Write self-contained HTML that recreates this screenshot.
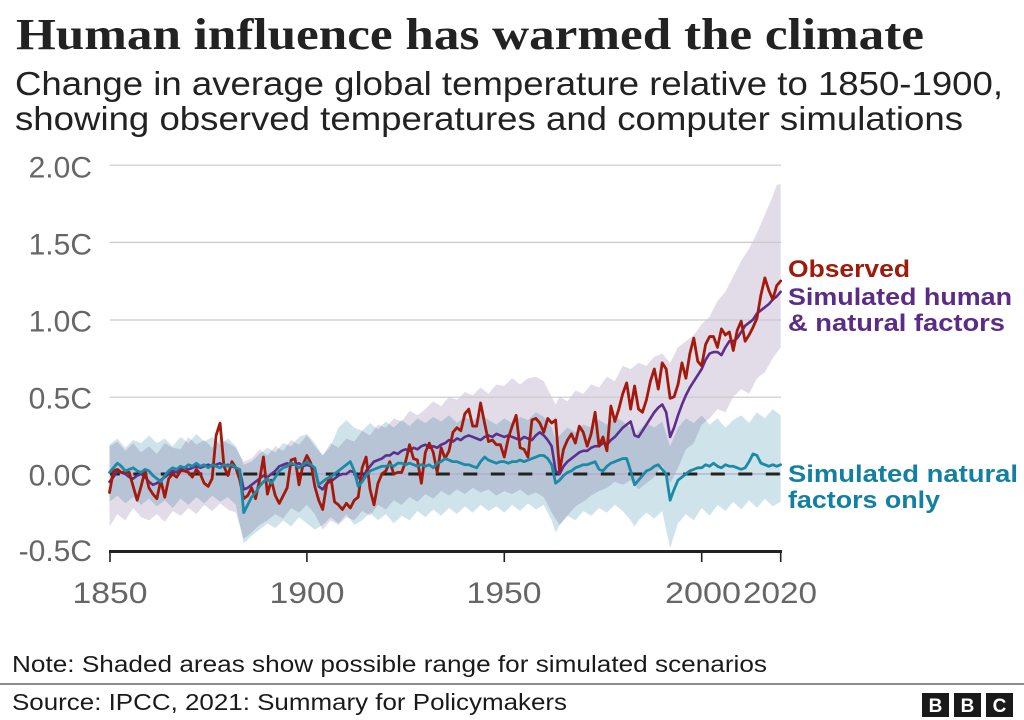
<!DOCTYPE html>
<html><head><meta charset="utf-8"><style>
html,body{margin:0;padding:0;background:#fff;}
svg{display:block;}
</style></head><body>
<svg width="1024" height="720" viewBox="0 0 1024 720" xmlns="http://www.w3.org/2000/svg">
<rect width="1024" height="720" fill="#fff"/>
<text x="16" y="49" font-family="'Liberation Serif', serif" font-weight="bold" font-size="44" fill="#222" textLength="908" lengthAdjust="spacingAndGlyphs">Human influence has warmed the climate</text>
<text x="15" y="95" font-family="'Liberation Sans', sans-serif" font-size="33" fill="#222" textLength="988" lengthAdjust="spacingAndGlyphs">Change in average global temperature relative to 1850-1900,</text>
<text x="15" y="130" font-family="'Liberation Sans', sans-serif" font-size="33" fill="#222" textLength="948" lengthAdjust="spacingAndGlyphs">showing observed temperatures and computer simulations</text>

<g transform="translate(109.5,474) scale(3.948,-154.4)">
<polygon fill="#e2dbe8" points="0,0.18 2,0.21 4,0.15 6,0.2 8,0.14 10,0.18 12,0.13 14,0.2 16,0.17 18,0.16 20,0.24 22,0.19 24,0.22 26,0.17 28,0.23 30,0.2 32,0.17 34,0.08 36,0.1 38,0.16 40,0.12 42,0.18 44,0.15 46,0.22 48,0.19 50,0.25 52,0.18 54,0.12 56,0.2 58,0.17 60,0.23 62,0.21 64,0.28 66,0.25 68,0.32 70,0.3 72,0.36 74,0.34 76,0.41 78,0.38 80,0.42 82,0.47 84,0.44 86,0.5 88,0.48 90,0.53 92,0.51 94,0.56 96,0.52 98,0.58 100,0.57 102,0.62 104,0.58 106,0.62 108,0.63 110,0.6 112,0.5 113,0.45 114,0.5 116,0.47 118,0.54 120,0.52 122,0.58 124,0.56 126,0.63 128,0.6 130,0.7 132,0.68 134,0.72 136,0.7 138,0.76 140,0.78 142,0.72 144,0.82 146,0.86 148,0.9 150,0.97 152,1.02 154,1.12 156,1.18 158,1.28 160,1.38 162,1.46 164,1.56 166,1.68 168,1.8 169,1.87 170,1.88 170,0.82 168,0.75 166,0.66 164,0.62 162,0.52 160,0.55 158,0.5 156,0.4 154,0.42 152,0.36 150,0.32 148,0.2 146,0.16 144,0.04 142,-0.06 140,0.06 138,-0.02 136,-0.06 134,-0.1 132,-0.04 130,-0.07 128,-0.05 126,-0.09 124,-0.11 122,-0.14 120,-0.18 118,-0.21 116,-0.27 114,-0.33 112,-0.25 110,-0.15 108,-0.12 106,-0.14 104,-0.1 102,-0.13 100,-0.11 98,-0.14 96,-0.1 94,-0.12 92,-0.09 90,-0.13 88,-0.1 86,-0.14 84,-0.11 82,-0.16 80,-0.13 78,-0.18 76,-0.15 74,-0.2 72,-0.17 70,-0.23 68,-0.2 66,-0.27 64,-0.24 62,-0.3 60,-0.28 58,-0.33 56,-0.3 54,-0.36 52,-0.26 50,-0.2 48,-0.25 46,-0.22 44,-0.29 42,-0.26 40,-0.3 38,-0.33 36,-0.38 34,-0.42 32,-0.25 30,-0.23 28,-0.19 26,-0.24 24,-0.2 22,-0.26 20,-0.22 18,-0.27 16,-0.24 14,-0.31 12,-0.26 10,-0.3 8,-0.28 6,-0.22 4,-0.3 2,-0.26 0,-0.34"/>
<polygon fill="#cfe4ea" style="mix-blend-mode:multiply" points="0,0.19 2,0.23 4,0.17 6,0.22 8,0.2 10,0.25 12,0.2 14,0.23 16,0.18 18,0.24 20,0.2 22,0.26 24,0.21 26,0.24 28,0.19 30,0.23 32,0.18 34,0.06 36,0.08 38,0.13 40,0.17 42,0.14 44,0.2 46,0.18 48,0.24 50,0.26 52,0.2 54,0.12 56,0.18 58,0.3 60,0.35 62,0.3 64,0.28 66,0.33 68,0.29 70,0.34 72,0.3 74,0.35 76,0.31 78,0.36 80,0.33 82,0.37 84,0.34 86,0.38 88,0.33 90,0.37 92,0.34 94,0.39 96,0.35 98,0.32 100,0.36 102,0.33 104,0.37 106,0.35 108,0.4 110,0.37 112,0.3 113,0.22 114,0.25 116,0.3 118,0.27 120,0.32 122,0.3 124,0.35 126,0.32 128,0.37 130,0.34 132,0.3 133,0.24 134,0.28 136,0.33 138,0.3 140,0.34 142,0.18 144,0.3 146,0.36 148,0.33 150,0.38 152,0.32 154,0.36 156,0.3 158,0.35 160,0.38 162,0.33 164,0.4 166,0.36 168,0.42 170,0.38 170,-0.18 168,-0.21 166,-0.16 164,-0.22 162,-0.17 160,-0.23 158,-0.18 156,-0.24 154,-0.2 152,-0.27 150,-0.22 148,-0.3 146,-0.26 144,-0.32 143,-0.4 142,-0.48 140,-0.24 138,-0.29 136,-0.25 134,-0.3 133,-0.34 132,-0.3 130,-0.24 128,-0.2 126,-0.25 124,-0.22 122,-0.27 120,-0.24 118,-0.3 116,-0.27 114,-0.33 113,-0.38 112,-0.3 110,-0.2 108,-0.23 106,-0.19 104,-0.24 102,-0.2 100,-0.25 98,-0.21 96,-0.24 94,-0.2 92,-0.25 90,-0.21 88,-0.26 86,-0.22 84,-0.27 82,-0.23 80,-0.28 78,-0.24 76,-0.3 74,-0.27 72,-0.32 70,-0.26 68,-0.3 66,-0.25 64,-0.3 62,-0.33 60,-0.26 58,-0.32 56,-0.28 54,-0.33 52,-0.36 50,-0.32 48,-0.28 46,-0.34 44,-0.3 42,-0.35 40,-0.32 38,-0.36 36,-0.4 34,-0.45 32,-0.2 30,-0.15 28,-0.18 26,-0.14 24,-0.19 22,-0.15 20,-0.2 18,-0.16 16,-0.22 14,-0.17 12,-0.21 10,-0.16 8,-0.2 6,-0.15 4,-0.19 2,-0.14 0,-0.18"/>
</g>

<g stroke="#c9c9c9" stroke-width="1.2">
<line x1="110" y1="165.2" x2="781" y2="165.2"/>
<line x1="110" y1="242.4" x2="781" y2="242.4"/>
<line x1="110" y1="320" x2="781" y2="320"/>
<line x1="110" y1="397.2" x2="781" y2="397.2"/>
<line x1="110" y1="474" x2="781" y2="474" stroke="#b3aacb"/>
</g>
<line x1="110" y1="474" x2="781" y2="474" stroke="#222" stroke-width="3" stroke-dasharray="14 13.5" stroke-dashoffset="4.2"/>

<g transform="translate(109.5,474) scale(3.948,-154.4)" fill="none" stroke-linejoin="round" stroke-linecap="round">
<polyline vector-effect="non-scaling-stroke" stroke="#5d2e8c" stroke-width="2.6" points="0,-0.05 1,-0.02 2,0.02 3,0.01 4,0 5,-0.02 6,-0.03 7,-0.01 8,0 9,-0.02 10,-0.05 11,-0.07 12,-0.06 13,-0.04 14,-0.02 15,0 16,0.02 17,0.01 18,0.03 19,0.04 20,0.03 21,0.04 22,0.05 23,0.04 24,0.05 25,0.06 26,0.05 27,0.06 28,0.07 29,0.05 30,0.06 31,0.05 32,0.04 33,0.02 34,-0.1 35,-0.09 36,-0.07 37,-0.05 38,-0.03 39,-0.01 40,-0.02 41,0 42,0.02 43,0.05 44,0.06 45,0.07 46,0.06 47,0.06 48,0.07 49,0.05 50,0.06 51,0.05 52,0.03 53,-0.08 54,-0.1 55,-0.06 56,-0.05 57,-0.03 58,-0.01 59,0 60,0 61,0.02 62,0.01 63,-0.02 64,-0.05 65,0.02 66,0.05 67,0.08 68,0.09 69,0.1 70,0.12 71,0.12 72,0.14 73,0.13 74,0.15 75,0.16 76,0.15 77,0.17 78,0.16 79,0.18 80,0.19 81,0.17 82,0.18 83,0.17 84,0.19 85,0.2 86,0.22 87,0.21 88,0.23 89,0.22 90,0.24 91,0.25 92,0.24 93,0.23 94,0.22 95,0.24 96,0.25 97,0.24 98,0.26 99,0.25 100,0.24 101,0.25 102,0.24 103,0.23 104,0.22 105,0.24 106,0.23 107,0.22 108,0.25 109,0.27 110,0.25 111,0.22 112,0.18 113,0.02 114,0 115,0.05 116,0.08 117,0.1 118,0.12 119,0.14 120,0.15 121,0.15 122,0.17 123,0.18 124,0.18 125,0.2 126,0.19 127,0.22 128,0.24 129,0.27 130,0.3 131,0.32 132,0.34 133,0.25 134,0.24 135,0.28 136,0.32 137,0.36 138,0.4 139,0.43 140,0.45 141,0.4 142,0.24 143,0.3 144,0.38 145,0.45 146,0.51 147,0.56 148,0.6 149,0.64 150,0.68 151,0.74 152,0.78 153,0.79 154,0.79 155,0.77 156,0.82 157,0.86 158,0.86 159,0.88 160,0.92 161,0.96 162,0.98 163,1 164,1.04 165,1.06 166,1.08 167,1.1 168,1.13 169,1.15 170,1.18"/>
<polyline vector-effect="non-scaling-stroke" stroke="#a3190b" stroke-width="2.8" points="0,-0.12 1,0.02 2,0.03 3,0.01 4,0.01 5,0.01 6,-0.08 7,-0.17 8,-0.08 9,0.02 10,-0.09 11,-0.13 12,-0.16 13,-0.04 14,-0.15 15,-0.03 16,0 17,-0.02 18,0.02 19,0.02 20,0.01 21,-0.02 22,0.03 23,0 24,-0.06 25,-0.08 26,-0.03 27,0.25 28,0.33 29,0.05 30,-0.01 31,0.08 32,0.04 33,-0.04 34,-0.16 35,-0.14 36,-0.09 37,-0.16 38,-0.04 39,0.11 40,-0.13 41,-0.04 42,-0.14 43,-0.19 44,-0.14 45,-0.09 46,0.09 47,0.1 48,-0.07 49,0.06 50,0.12 51,0.07 52,-0.08 53,-0.17 54,-0.23 55,-0.07 56,-0.01 57,-0.18 58,-0.2 59,-0.23 60,-0.19 61,-0.22 62,-0.17 63,-0.15 64,0.04 65,0.11 66,-0.1 67,-0.2 68,-0.06 69,0 70,0.02 71,0.08 72,0 73,0.01 74,0.01 75,0.08 76,0.19 77,0.1 78,0.09 79,-0.06 80,0.14 81,0.2 82,0.14 83,0.01 84,0.17 85,0.1 86,0.15 87,0.27 88,0.3 89,0.28 90,0.39 91,0.42 92,0.31 93,0.31 94,0.46 95,0.33 96,0.21 97,0.22 98,0.19 99,0.19 100,0.11 101,0.23 102,0.31 103,0.38 104,0.17 105,0.16 106,0.11 107,0.35 108,0.36 109,0.33 110,0.27 111,0.36 112,0.33 113,0.35 114,0.02 115,0.16 116,0.22 117,0.26 118,0.2 119,0.31 120,0.27 121,0.18 122,0.26 123,0.4 124,0.18 125,0.24 126,0.15 127,0.44 128,0.34 129,0.42 130,0.52 131,0.59 132,0.42 133,0.57 134,0.42 135,0.4 136,0.48 137,0.6 138,0.68 139,0.55 140,0.72 141,0.68 142,0.49 143,0.5 144,0.58 145,0.72 146,0.62 147,0.78 148,0.88 149,0.73 150,0.7 151,0.84 152,0.89 153,0.89 154,0.82 155,0.94 156,0.9 157,0.92 158,0.8 159,0.93 160,0.99 161,0.86 162,0.9 163,0.95 164,1.01 165,1.16 166,1.27 167,1.19 168,1.13 169,1.22 170,1.25"/>
<polyline vector-effect="non-scaling-stroke" stroke="#1a8aa6" stroke-width="2.8" points="0,0.01 1,0.04 2,0.07 3,0.05 4,0.02 5,0.03 6,0.04 7,0.02 8,0.01 9,0.03 10,0.02 11,-0.01 12,-0.03 13,-0.05 14,-0.01 15,0.02 16,0.04 17,0.03 18,0.05 19,0.04 20,0.06 21,0.05 22,0.07 23,0.05 24,0.06 25,0.04 26,0.06 27,0.05 28,0.04 29,0.06 30,0.05 31,0.06 32,0.04 33,0.03 34,-0.25 35,-0.2 36,-0.15 37,-0.12 38,-0.08 39,-0.05 40,-0.03 41,-0.06 42,-0.02 43,0.02 44,0.04 45,0.05 46,0.07 47,0.06 48,0.04 49,0.06 50,0.08 51,0.06 52,0.04 53,-0.07 54,-0.05 55,-0.03 56,-0.02 57,0 58,0.02 59,0.04 60,0.06 61,0.08 62,0.02 63,-0.08 64,-0.05 65,-0.01 66,0.02 67,0.03 68,0.04 69,0.05 70,0.05 71,0.06 72,0.05 73,0.07 74,0.07 75,0.06 76,0.07 77,0.06 78,0.05 79,0.06 80,0.05 81,0.06 82,0.04 83,0.07 84,0.08 85,0.1 86,0.09 87,0.08 88,0.08 89,0.07 90,0.06 91,0.06 92,0.05 93,0.04 94,0.08 95,0.11 96,0.09 97,0.08 98,0.07 99,0.08 100,0.08 101,0.07 102,0.08 103,0.08 104,0.09 105,0.08 106,0.09 107,0.1 108,0.11 109,0.12 110,0.12 111,0.1 112,0.06 113,-0.06 114,-0.04 115,-0.01 116,0.01 117,0.02 118,0.04 119,0.05 120,0.06 121,0.06 122,0.07 123,0.08 124,0.03 125,0.02 126,0.05 127,0.07 128,0.08 129,0.09 130,0.1 131,0.1 132,0.02 133,-0.07 134,-0.04 135,-0.01 136,0.02 137,0.03 138,0.05 139,0.06 140,0.03 141,0 142,-0.17 143,-0.1 144,-0.04 145,-0.02 146,0 147,0.02 148,0.03 149,0.04 150,0.04 151,0.06 152,0.05 153,0.07 154,0.05 155,0.04 156,0.06 157,0.05 158,0.05 159,0.04 160,0.03 161,0.04 162,0.08 163,0.13 164,0.12 165,0.07 166,0.06 167,0.05 168,0.06 169,0.05 170,0.06"/>
</g>

<line x1="109" y1="551.5" x2="782" y2="551.5" stroke="#222" stroke-width="3"/>
<g stroke="#222" stroke-width="1.6">
<line x1="110" y1="551" x2="110" y2="562"/>
<line x1="306.9" y1="551" x2="306.9" y2="562"/>
<line x1="504.3" y1="551" x2="504.3" y2="562"/>
<line x1="701.7" y1="551" x2="701.7" y2="562"/>
<line x1="780.7" y1="551" x2="780.7" y2="562"/>
</g>

<g font-family="'Liberation Sans', sans-serif" font-size="30" fill="#666" text-anchor="end">
<text x="92" y="177.5">2.0C</text>
<text x="92" y="254.5">1.5C</text>
<text x="92" y="331.5">1.0C</text>
<text x="92" y="408.5">0.5C</text>
<text x="92" y="485.5">0.0C</text>
<text x="92" y="561">-0.5C</text>
</g>
<g font-family="'Liberation Sans', sans-serif" font-size="30" fill="#666" text-anchor="middle">
<text x="110" y="603" textLength="75" lengthAdjust="spacingAndGlyphs">1850</text>
<text x="307" y="603" textLength="75" lengthAdjust="spacingAndGlyphs">1900</text>
<text x="504" y="603" textLength="75" lengthAdjust="spacingAndGlyphs">1950</text>
<text x="703" y="603" textLength="76" lengthAdjust="spacingAndGlyphs">2000</text>
<text x="780" y="603" textLength="74" lengthAdjust="spacingAndGlyphs">2020</text>
</g>

<g font-family="'Liberation Sans', sans-serif" font-weight="bold" font-size="24">
<text x="788" y="277" fill="#a01a0c" textLength="122" lengthAdjust="spacingAndGlyphs">Observed</text>
<text x="788" y="305" fill="#5b2c86" textLength="224" lengthAdjust="spacingAndGlyphs">Simulated human</text>
<text x="788" y="331" fill="#5b2c86" textLength="217" lengthAdjust="spacingAndGlyphs">&amp; natural factors</text>
<text x="788" y="482" fill="#1380a1" textLength="230" lengthAdjust="spacingAndGlyphs">Simulated natural</text>
<text x="788" y="508" fill="#1380a1" textLength="152" lengthAdjust="spacingAndGlyphs">factors only</text>
</g>

<text x="12" y="672" font-family="'Liberation Sans', sans-serif" font-size="23" fill="#1a1a1a" textLength="755" lengthAdjust="spacingAndGlyphs">Note: Shaded areas show possible range for simulated scenarios</text>
<rect x="0" y="683" width="1024" height="2" fill="#8c8c8c"/>
<text x="12" y="710" font-family="'Liberation Sans', sans-serif" font-size="23" fill="#1a1a1a" textLength="555" lengthAdjust="spacingAndGlyphs">Source: IPCC, 2021: Summary for Policymakers</text>

<g>
<rect x="922" y="693" width="27" height="24" fill="#1a1a1a"/>
<rect x="954" y="693" width="27" height="24" fill="#1a1a1a"/>
<rect x="986" y="693" width="27" height="24" fill="#1a1a1a"/>
<g font-family="'Liberation Sans', sans-serif" font-weight="bold" font-size="19" fill="#fff" text-anchor="middle">
<text x="935.5" y="712">B</text>
<text x="967.5" y="712">B</text>
<text x="999.5" y="712">C</text>
</g>
</g>
</svg>
</body></html>
